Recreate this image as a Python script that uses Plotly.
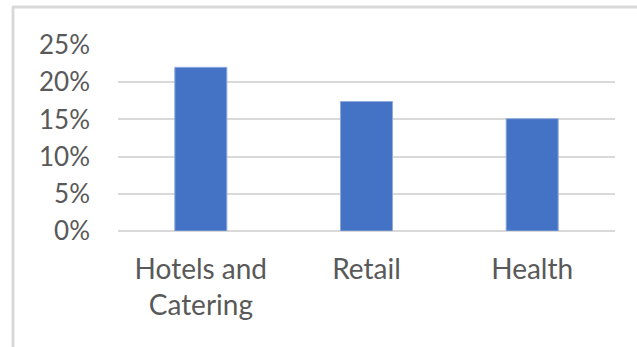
import plotly.graph_objects as go

categories = ["Hotels and<br>Catering", "Retail", "Health"]
values = [0.22, 0.174, 0.151]
y_ticks = [0, 0.05, 0.10, 0.15, 0.20, 0.25]

W, H = 637, 347
ml, mr, mt, mb = 118, 22, 45, 116
pw = W - ml - mr
ph = H - mt - mb

def px(x):
    return (x - ml) / pw

def py(y):
    return (H - mb - y) / ph

fig = go.Figure(go.Bar(
    x=categories, y=values,
    marker=dict(color="#4472C4", line=dict(color="#8FAADC", width=1)),
))

fig.update_layout(
    width=W, height=H,
    margin=dict(l=ml, r=mr, t=mt, b=mb),
    paper_bgcolor="white", plot_bgcolor="white",
    bargap=0.686,
    showlegend=False,
    font=dict(family="Lato", color="#595959", size=26),
    shapes=[
        dict(type="line", xref="paper", yref="paper", x0=px(13), x1=px(13),
             y0=py(7), y1=py(H + 5), line=dict(color="#D9D9D9", width=3)),
        dict(type="line", xref="paper", yref="paper", x0=px(12), x1=px(W + 5),
             y0=py(7), y1=py(7), line=dict(color="#D9D9D9", width=3)),
    ],
)
fig.update_yaxes(
    range=[0, 0.25], tickvals=y_ticks, tickformat=".0%",
    showgrid=True, gridcolor="#D9D9D9", gridwidth=2,
    zeroline=True, zerolinecolor="#D9D9D9", zerolinewidth=2,
    ticklabelstandoff=27, showline=False,
    tickfont=dict(size=26, color="#595959"),
)
fig.update_xaxes(
    showgrid=False, showline=False, ticklabelstandoff=19,
    tickfont=dict(size=28, color="#595959"),
)

fig.write_html("out.html")
